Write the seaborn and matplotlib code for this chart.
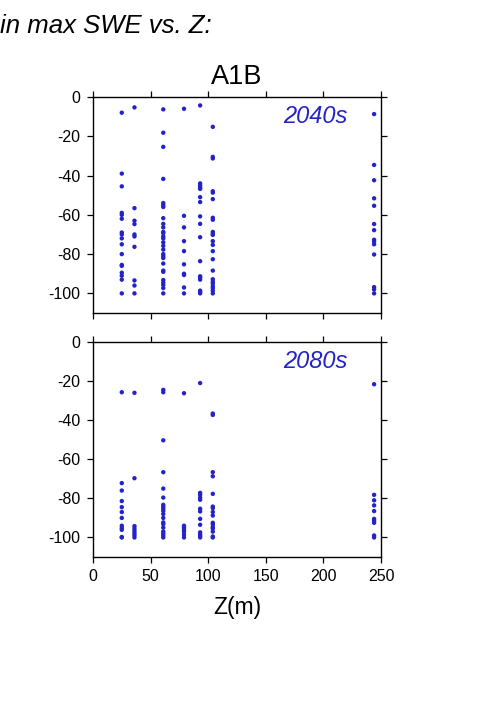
import seaborn as sns
import matplotlib.pyplot as plt
import pandas as pd

# elevation (m) of each station column, and change in max SWE (%) per column
z_sites = [25, 36, 61, 79, 93, 104, 244]

swe_2040s = [
    [-8, -39, -45.5, -59, -60, -62, -69, -70, -72, -75, -80, -85.5, -86, -89.5, -91, -93, -100],
    [-5.3, -56.6, -63, -64.7, -70, -71, -76.3, -93.4, -96, -100],
    [-6.3, -18.2, -25.4, -41.7, -54, -55, -56, -61.7, -64.6, -66.4, -68.7, -69.3, -71, -72,
     -74, -75.8, -77.7, -80, -81, -82, -84.8, -88.4, -89, -93.2, -94.5, -95.7, -97.3, -100],
    [-6, -60.5, -66.4, -73.4, -78.5, -85.2, -90, -90.6, -97, -100],
    [-4.3, -44, -45, -46, -46.8, -51, -53.5, -60.8, -64.6, -71.4, -83.6, -91.3, -92, -93,
     -98.6, -99.3, -100],
    [-15.2, -30.5, -31.3, -48, -48.7, -52, -61.5, -62.5, -68.7, -69.7, -70.2, -73.4, -75.3,
     -78.5, -82.6, -88.4, -92.8, -94, -95, -96.4, -97.3, -98.6, -100],
    [-8.7, -34.6, -42.4, -51.6, -55.4, -64.7, -67.8, -72.7, -73.6, -75, -80.2, -96.8, -98, -100],
]

swe_2080s = [
    [-25.7, -72.2, -76, -81.4, -84.5, -87, -90, -94, -95.2, -96.1, -99.8, -100],
    [-26, -69.7, -94.2, -95.4, -96.6, -97.8, -98.8, -100],
    [-24.5, -25.7, -50.3, -66.6, -75, -79.6, -83.3, -84.3, -85.3, -86.4, -88, -90, -92.3,
     -93.2, -95, -97, -98, -99, -100],
    [-26.2, -94, -95, -96, -97, -98.5, -100],
    [-21, -77.2, -78.2, -79.6, -80.7, -85.3, -86.7, -90.5, -93.5, -97.4, -98.5, -99.3, -100],
    [-36.6, -37.3, -66.6, -68.7, -77.7, -84.2, -85, -87, -88.8, -92.5, -93.4, -94.7, -95.4,
     -97, -99.5, -100],
    [-21.6, -78.2, -81, -83.6, -86.5, -90.5, -91.5, -92.5, -99, -100],
]

periods = ["2040s", "2080s"]
x_ticks = [0, 50, 100, 150, 200, 250]
y_ticks = [0, -20, -40, -60, -80, -100]

rows = []
for period, series in zip(periods, [swe_2040s, swe_2080s]):
    for z, vals in zip(z_sites, series):
        for v in vals:
            rows.append({"period": period, "Z": z, "dSWE": v})
df = pd.DataFrame(rows)

sns.set_style("ticks")
plt.rcParams['font.family'] = ['Liberation Sans', 'DejaVu Sans']
plt.rcParams['axes.unicode_minus'] = False
plt.rcParams['text.color'] = 'black'
plt.rcParams['xtick.color'] = 'black'
plt.rcParams['ytick.color'] = 'black'
plt.rcParams['axes.labelcolor'] = 'black'

dot_color = "#2323c8"
fig = plt.figure(figsize=(5.01, 7.09), dpi=100)
ax_top = fig.add_axes([0.1856, 0.5585, 0.5749, 0.3047])
ax_bot = fig.add_axes([0.1856, 0.2144, 0.5749, 0.3032])

for ax, period in zip([ax_top, ax_bot], periods):
    sns.scatterplot(data=df[df.period == period], x="Z", y="dSWE", ax=ax,
                    color=dot_color, s=10, edgecolor="none", legend=False)
    ax.set_xlim(0, 250)
    ax.set_ylim(-110, 0)
    ax.set_xticks(x_ticks)
    ax.set_yticks(y_ticks)
    ax.tick_params(direction="out", length=4, width=0.9, color="black",
                   top=True, right=True, labelsize=11.5, pad=5)
    for sp in ax.spines.values():
        sp.set_visible(True)
        sp.set_linewidth(1.0)
        sp.set_color("black")
    ax.set_xlabel("")
    ax.set_ylabel("")
    ax.text(0.885, 0.91, period, transform=ax.transAxes, ha="right", va="center",
            fontsize=17, style="italic", color=dot_color)

ax_top.tick_params(labelbottom=False)
ax_bot.set_xlabel("Z(m)", fontsize=16.5, labelpad=8)
ax_top.set_title("A1B", fontsize=19.5, pad=9)

fig.text(0.0, 0.98, "in max SWE vs. Z:", ha="left", va="top",
         fontsize=18.5, style="italic")

fig.savefig("out.png", dpi=100)
